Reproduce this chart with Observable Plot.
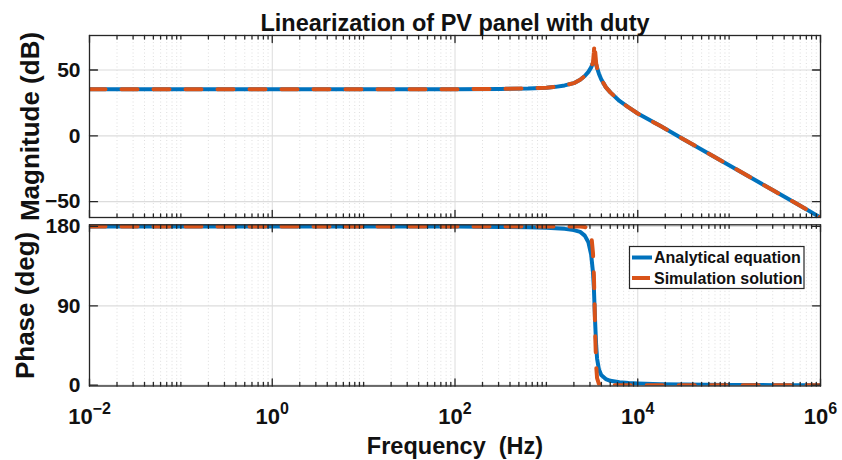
<!DOCTYPE html>
<html><head><meta charset="utf-8">
<script src="https://cdn.jsdelivr.net/npm/d3@7"></script>
<script src="https://cdn.jsdelivr.net/npm/@observablehq/plot@0.6"></script>
<style>
body{margin:0;background:#fff;}
#wrap{position:relative;width:842px;height:460px;overflow:hidden;}
#top,#bot,#legend{position:absolute;left:0;}
#top{top:0}
#bot{top:221px}
#legend{top:0}
</style></head><body><div id="wrap"><div id="top"></div><div id="bot"></div><svg id="legend" width="842" height="460" style="pointer-events:none"></svg></div>
<script>
// ---- data ----
const freq = [0.01, 0.1, 1, 10, 100, 316, 631, 1000, 1259, 1585, 1995, 2344, 2630, 2884, 3090, 3236, 3311, 3365, 3428, 3508, 3589, 3758, 3981, 4467, 5012, 6310, 7943, 10000, 17783, 31623, 56234, 100000, 177828, 316228, 562341, 1000000];
const magAnalytical = [35.4, 35.4, 35.4, 35.4, 35.45, 35.6, 36.0, 36.6, 37.2, 38.3, 40.0, 42.6, 45.4, 48.6, 52.0, 55.3, 57.2, 59.0, 57.0, 54.2, 51.6, 47.2, 43.0, 37.0, 33.0, 26.5, 21.6, 17.0, 7.4, -2.5, -12.4, -22.3, -32.2, -42.1, -52.0, -62.0];
const magSimulation = [35.4, 35.4, 35.4, 35.4, 35.45, 35.6, 36.0, 36.6, 37.2, 38.3, 40.0, 42.6, 45.4, 48.6, 52.0, 55.8, 63.5, 71.0, 63.0, 55.0, 51.6, 47.2, 43.0, 37.0, 33.0, 26.5, 21.6, 17.0, 7.4, -2.5, -12.4, -22.3, -32.2, -42.1, -52.0, -62.0];
const phaseAnalytical = [180, 180, 180, 179.98, 179.8, 179.4, 179.0, 178.5, 178.0, 177.2, 175.8, 173.8, 169.5, 162, 148, 128, 110, 90, 68, 45, 30, 18, 11.5, 7.0, 5.0, 3.4, 2.5, 2.0, 1.2, 0.7, 0.4, 0.2, 0.12, 0.07, 0.04, 0.02];
const phaseSimulation = [180, 180, 180, 180, 180, 180, 180, 180, 180, 180, 180, 179.8, 179.3, 178, 172, 150, 125, 95, 55, 22, 8, 1.5, 0.3, 0.1, 0, 0, 0, 0, 0, 0, 0, 0, 0, 0, 0, 0];
const seriesNames = ["Analytical equation", "Simulation solution"];
const xTicks = [1e-2, 1e0, 1e2, 1e4, 1e6];
const xTickLabels = ["10^-2", "10^0", "10^2", "10^4", "10^6"];
const magTicks = [-50, 0, 50];
const magTickLabels = ["-50", "0", "50"];
const phaseTicks = [0, 90, 180];
const phaseTickLabels = ["0", "90", "180"];
const titleText = "Linearization of PV panel with duty";
const xLabel = "Frequency  (Hz)";
const magLabel = "Magnitude (dB)";
const phaseLabel = "Phase (deg)";

// ---- styling ----
const font = "'Liberation Sans', Arial, Helvetica, sans-serif";
const ink = "#262626";
const blue = "#0072BD", orange = "#D95319";
const xDomain = [1e-2, 1e6];
const W = 842, mL = 89, mR = 22;
const minorTicks = d3.scaleLog().domain(xDomain).ticks().filter(v => !xTicks.some(t => Math.abs(t - v) / t < 1e-9));
const tickShape = {draw(ctx, l) { ctx.moveTo(0, 0); ctx.lineTo(0, -l); }};

function gridMarks(yTicks) {
  return [
    Plot.ruleX(minorTicks, {x: d => d, stroke: "#d6d6d6", strokeDasharray: "1,2.5", strokeWidth: 0.8}),
    Plot.ruleX(xTicks, {x: d => d, stroke: "#dcdcdc", strokeWidth: 1}),
    Plot.ruleY(yTicks, {y: d => d, stroke: "#dcdcdc", strokeWidth: 1.2})
  ];
}
function tickMarks(yTicks) {
  const o = {stroke: ink, strokeWidth: 1.3, shape: tickShape, anchor: "start"};
  return [
    Plot.vector(xTicks, {x: d => d, frameAnchor: "bottom", rotate: 0, length: 7, ...o}),
    Plot.vector(xTicks, {x: d => d, frameAnchor: "top", rotate: 180, length: 7, ...o}),
    Plot.vector(minorTicks, {x: d => d, frameAnchor: "bottom", rotate: 0, length: 3.5, ...o}),
    Plot.vector(minorTicks, {x: d => d, frameAnchor: "top", rotate: 180, length: 3.5, ...o}),
    Plot.vector(yTicks, {y: d => d, frameAnchor: "left", rotate: 90, length: 8, ...o}),
    Plot.vector(yTicks, {y: d => d, frameAnchor: "right", rotate: -90, length: 8, ...o})
  ];
}
function seriesMarks(a, s) {
  return [
    Plot.line(freq, {x: d => d, y: (d, i) => a[i], stroke: blue, strokeWidth: 4, strokeLinejoin: "round", clip: true}),
    Plot.line(freq, {x: d => d, y: (d, i) => s[i], stroke: orange, strokeWidth: 4, strokeDasharray: "16,16", strokeLinejoin: "round", clip: true})
  ];
}
const txt = {fontWeight: "bold", fill: "#111"};

const topPlot = Plot.plot({
  width: W, height: 221, marginLeft: mL, marginRight: mR, marginTop: 35, marginBottom: 4,
  style: {fontFamily: font, background: "transparent", overflow: "visible"},
  x: {type: "log", domain: xDomain, axis: null},
  y: {domain: [-62, 76.2], axis: null},
  marks: [
    ...gridMarks(magTicks),
    ...seriesMarks(magAnalytical, magSimulation),
    Plot.frame({stroke: ink, strokeWidth: 1.3}),
    ...tickMarks(magTicks),
    Plot.text(magTicks, {y: d => d, text: (d, i) => magTickLabels[i].replace("-", "\u2212"), frameAnchor: "left", dx: -9, textAnchor: "end", fontSize: 21, ...txt}),
    Plot.text([magLabel], {frameAnchor: "left", dx: -50.5, rotate: -90, textAnchor: "middle", lineAnchor: "bottom", fontSize: 26, ...txt}),
    Plot.text([titleText], {frameAnchor: "top", dy: -5, textAnchor: "middle", lineAnchor: "bottom", fontSize: 23.5, ...txt})
  ]
});
document.getElementById("top").appendChild(topPlot);

const botPlot = Plot.plot({
  width: W, height: 239, marginLeft: mL, marginRight: mR, marginTop: 3.3, marginBottom: 74.5,
  style: {fontFamily: font, background: "transparent", overflow: "visible"},
  x: {type: "log", domain: xDomain, axis: null},
  y: {domain: [-0.9, 181.8], axis: null},
  marks: [
    ...gridMarks(phaseTicks),
    ...seriesMarks(phaseAnalytical, phaseSimulation),
    Plot.frame({stroke: ink, strokeWidth: 1.3}),
    ...tickMarks(phaseTicks),
    Plot.text(phaseTicks, {y: d => d, text: (d, i) => phaseTickLabels[i], frameAnchor: "left", dx: -9, textAnchor: "end", fontSize: 21, ...txt}),
    Plot.text(xTickLabels, {x: (d, i) => xTicks[i], text: d => d, frameAnchor: "bottom", dy: 38, textAnchor: "middle", lineAnchor: "bottom", fontSize: 22, ...txt}),
    Plot.text([phaseLabel], {frameAnchor: "left", dx: -55.5, rotate: -90, textAnchor: "middle", lineAnchor: "bottom", fontSize: 26, ...txt}),
    Plot.text([xLabel.replace("  ", "\u00a0 ")], {frameAnchor: "bottom", dy: 68.3, textAnchor: "middle", lineAnchor: "bottom", fontSize: 23.5, ...txt})
  ]
});
document.getElementById("bot").appendChild(botPlot);

// superscript exponents for the log tick labels
d3.select(botPlot).selectAll("text").filter(function() { return this.textContent.includes("^"); }).each(function() {
  const s = this.textContent;
  const [base, exp] = s.split("^");
  const t = d3.select(this);
  t.text(null);
  t.append("tspan").text(base);
  t.append("tspan").attr("dy", -10.5).attr("font-size", 16).text(exp.replace("-", "\u2212"));
});

// legend
const lg = d3.select("#legend").style("font-family", font);
lg.append("rect").attr("x", 629.5).attr("y", 246.5).attr("width", 174.5).attr("height", 42).attr("fill", "#fff").attr("stroke", ink).attr("stroke-width", 1.2);
lg.append("line").attr("x1", 632).attr("x2", 652).attr("y1", 257.5).attr("y2", 257.5).attr("stroke", blue).attr("stroke-width", 4);
lg.append("line").attr("x1", 632).attr("x2", 652).attr("y1", 278).attr("y2", 278).attr("stroke", orange).attr("stroke-width", 4).attr("stroke-dasharray", "18,30");
lg.append("text").attr("x", 654).attr("y", 263.3).attr("font-size", 16).attr("font-weight", "bold").attr("fill", "#111").text(seriesNames[0]);
lg.append("text").attr("x", 654).attr("y", 284).attr("font-size", 16).attr("font-weight", "bold").attr("fill", "#111").text(seriesNames[1]);
</script></body></html>
